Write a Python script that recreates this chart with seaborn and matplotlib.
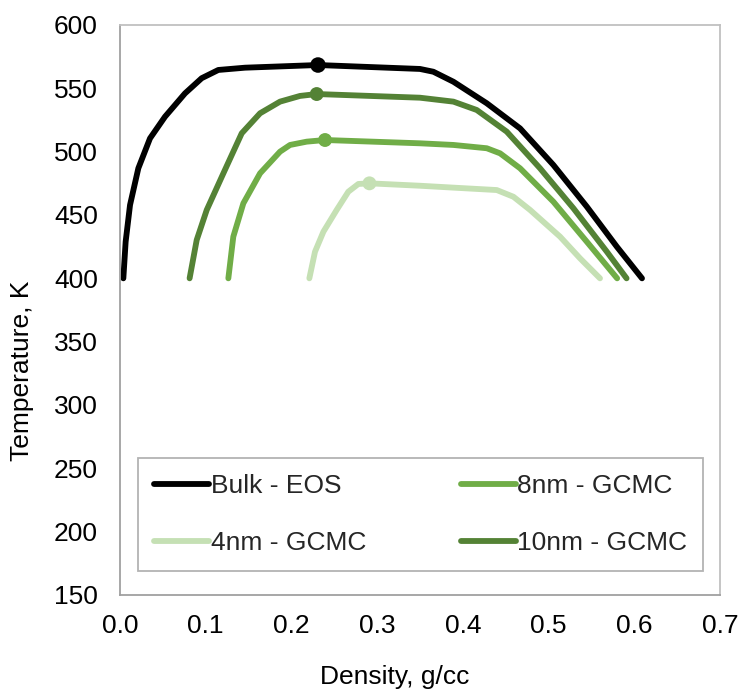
import matplotlib
matplotlib.use("Agg")
import matplotlib.pyplot as plt
import seaborn as sns
import pandas as pd
from matplotlib.lines import Line2D

sns.set_style("white")
plt.rcParams['font.family'] = ['Liberation Sans', 'DejaVu Sans']

# Data (density g/cc, temperature K)
bulk_x = [0.0039, 0.0066, 0.0117, 0.0214, 0.035, 0.0525, 0.0758, 0.0953, 0.1147, 0.1459,
          0.231, 0.350, 0.3656, 0.389, 0.4279, 0.4667, 0.5056, 0.5446, 0.5796, 0.6090]
bulk_y = [400, 429, 457.9, 486.9, 510.5, 527.6, 546, 558, 564.5, 566.3,
          568.4, 565.3, 563.1, 555.2, 538.2, 518.4, 489.5, 456.6, 425, 400]

nm10_x = [0.0812, 0.0895, 0.1012, 0.1206, 0.142, 0.1634, 0.1867, 0.210, 0.2295,
          0.350, 0.389, 0.4162, 0.4512, 0.490, 0.529, 0.568, 0.591]
nm10_y = [400, 430.3, 454, 482.9, 514.5, 530.3, 539.5, 544, 545.5,
          542.6, 539.5, 532.9, 515.8, 486.9, 455.3, 421, 400]

nm8_x = [0.1264, 0.1322, 0.1439, 0.1634, 0.1867, 0.1984, 0.2178, 0.2392,
         0.350, 0.389, 0.4279, 0.4434, 0.4667, 0.5056, 0.5446, 0.5800]
nm8_y = [400, 432.9, 459.2, 482.9, 500, 505.3, 507.9, 509.2,
         506.6, 505.3, 502.7, 498.7, 486.9, 460.5, 428.9, 400]

nm4_x = [0.2209, 0.2275, 0.2373, 0.2528, 0.2664, 0.2781, 0.291,
         0.350, 0.389, 0.4396, 0.459, 0.4784, 0.5134, 0.5367, 0.560]
nm4_y = [400, 421, 436.8, 454, 468.4, 474.5, 475,
         473.1, 471.6, 469.7, 464.4, 454, 432.9, 415.8, 400]

# critical points
crit_x = [0.231, 0.2295, 0.2392, 0.291]
crit_y = [568.4, 545.5, 509.2, 475]

series = ["Bulk - EOS", "10nm - GCMC", "8nm - GCMC", "4nm - GCMC"]
colors = {"Bulk - EOS": "#000000", "10nm - GCMC": "#548235",
          "8nm - GCMC": "#70AD47", "4nm - GCMC": "#C5E0B4"}

frames = []
for name, xs, ys in zip(series, [bulk_x, nm10_x, nm8_x, nm4_x], [bulk_y, nm10_y, nm8_y, nm4_y]):
    frames.append(pd.DataFrame({"x": xs, "y": ys, "series": name}))
df = pd.concat(frames, ignore_index=True)
crit = pd.DataFrame({"x": crit_x, "y": crit_y, "series": series})

fig = plt.figure(figsize=(7.42, 6.94), dpi=100)
ax = fig.add_axes([120/742, 1-595/694, 600/742, 570/694])

sns.lineplot(data=df, x="x", y="y", hue="series", palette=colors, sort=False,
             estimator=None, units="series", linewidth=4.2, ax=ax, legend=False,
             solid_capstyle="round", solid_joinstyle="round")
sizes = {"Bulk - EOS": 125, "10nm - GCMC": 100, "8nm - GCMC": 100, "4nm - GCMC": 100}
for name in series:
    sub = crit[crit.series == name]
    sns.scatterplot(data=sub, x="x", y="y", color=colors[name], s=sizes[name],
                    edgecolor="none", ax=ax, legend=False, zorder=5)

ax.set_xlim(0, 0.7)
ax.set_ylim(150, 600)
ax.set_xticks([i/10 for i in range(8)])
ax.set_xticklabels([f"{i/10:.1f}" for i in range(8)])
ax.set_yticks(list(range(150, 601, 50)))
ax.tick_params(axis="both", direction="in", length=7, width=1, color="#A0A0A0",
               labelsize=19, labelcolor="black")
ax.tick_params(axis="x", pad=14)
ax.tick_params(axis="y", pad=16)
for s in ["left", "bottom"]:
    ax.spines[s].set_color("#A0A0A0")
    ax.spines[s].set_linewidth(1.3)
for s in ["top", "right"]:
    ax.spines[s].set_color("#C0C0C0")
    ax.spines[s].set_linewidth(1.3)
    ax.spines[s].set_visible(True)

ax.set_xlabel("Density, g/cc", fontsize=19, color="black")
ax.set_ylabel("Temperature, K", fontsize=19, color="black")
ax.xaxis.set_label_coords((395-120)/600, -(677-595)/570)
ax.yaxis.set_label_coords(-(120-22)/600, (595-371)/570)
ax.xaxis.label.set_va("center")
ax.yaxis.label.set_va("center")

order = ["Bulk - EOS", "4nm - GCMC", "8nm - GCMC", "10nm - GCMC"]
handles = [Line2D([], [], color=colors[n], lw=4.2, solid_capstyle="round") for n in order]
leg = ax.legend(handles, order, ncol=2, loc="lower left",
                bbox_to_anchor=(0.03, 0.042, 0.942, 0.196), mode="expand",
                fontsize=19, handlelength=2.1, handletextpad=0.05,
                frameon=True, fancybox=False, borderaxespad=0,
                labelspacing=1.25, borderpad=0.6)
leg.get_frame().set_edgecolor("#A0A0A0")
leg.get_frame().set_linewidth(1.3)

fig.savefig("out.png", dpi=100)
